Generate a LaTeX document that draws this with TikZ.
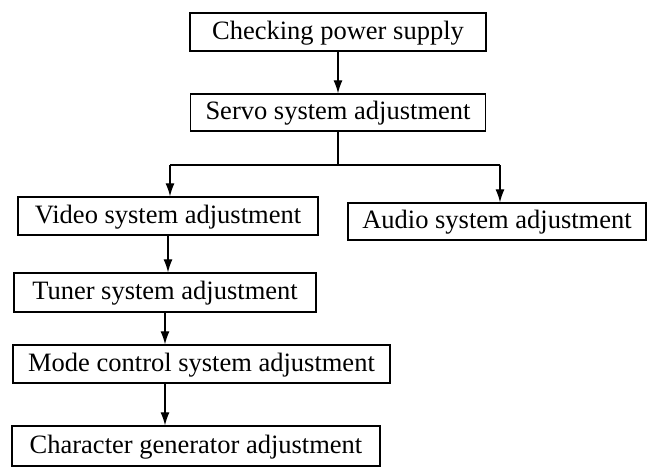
\documentclass[tikz,border=0pt]{standalone}
\usepackage{fontspec}
\setmainfont{Liberation Serif}
\usetikzlibrary{arrows.meta}
\begin{document}
\begin{tikzpicture}[x=1pt,y=-1pt,
  box/.style={draw, line width=1.3pt, inner sep=0pt, minimum height=38pt,
    text height=18pt, text depth=4pt,
    font=\fontsize{26.5}{30}\selectfont},
  arr/.style={line width=1.2pt, -{Latex[length=13pt,width=9pt]}},
  ln/.style={line width=1.2pt}]
\useasboundingbox (0,0) rectangle (651,467);
\node[box, minimum width=296pt] (check) at (338,32) {Checking power supply};
\node[box, minimum width=295pt, minimum height=37pt] (servo) at (338,112.5) {Servo system adjustment};
\node[box, minimum width=300pt] (video) at (168,216) {Video system adjustment};
\node[box, minimum width=298pt, minimum height=37pt] (audio) at (497,221.5) {Audio system adjustment};
\node[box, minimum width=302pt, minimum height=39pt] (tuner) at (165,292.5) {Tuner system adjustment};
\node[box, minimum width=377pt] (mode) at (201.5,364) {Mode control system adjustment};
\node[box, minimum width=368pt, minimum height=40pt] (char) at (196,446) {Character generator adjustment};
\coordinate (bl) at (170,165);
\coordinate (br) at (500,165);
\draw[arr] (check.south) -- (check.south |- servo.north);
\draw[ln] (servo.south) |- (bl);
\draw[ln] (servo.south) |- (br);
\draw[arr] (bl) -- (bl |- video.north);
\draw[arr] (br) -- (br |- audio.north);
\draw[arr] (video.south) -- (video.south |- tuner.north);
\draw[arr] (tuner.south) -- (tuner.south |- mode.north);
\draw[arr] ([xshift=-36.5pt]mode.south) -- ([xshift=-36.5pt]mode.south |- char.north);
\end{tikzpicture}
\end{document}
